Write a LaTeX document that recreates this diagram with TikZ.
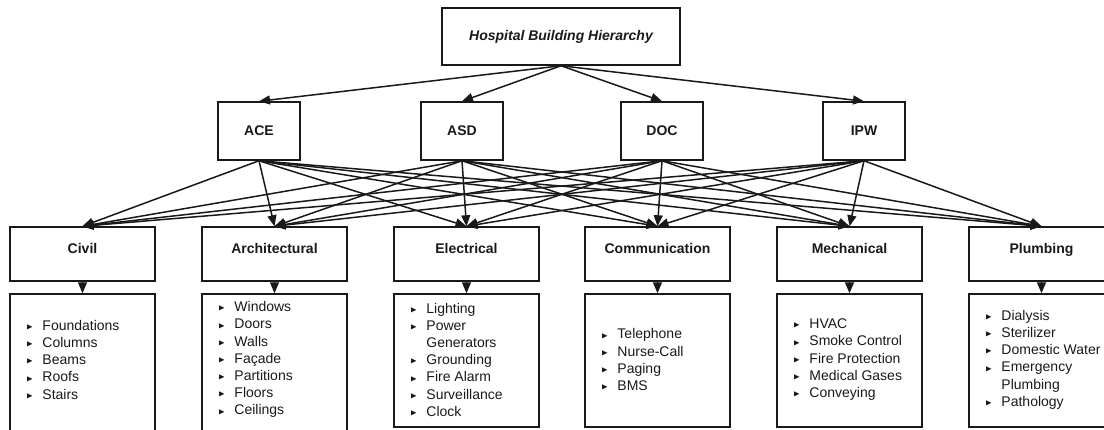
\documentclass[tikz,border=0pt]{standalone}
\usepackage{fontspec}
\setmainfont{Liberation Sans}
\usepackage{amssymb}
\usetikzlibrary{arrows.meta}
\newcommand{\bul}{\raisebox{0.8pt}{\scalebox{0.62}{$\blacktriangleright$}}}
\newcommand{\itm}[1]{\makebox[16pt][l]{\bul}#1}
\newcommand{\cnt}[1]{\makebox[16pt][l]{}#1}
\begin{document}
\begin{tikzpicture}[x=1pt,y=-1pt,
  box/.style={draw=black!90, line width=1.5pt, rectangle, inner sep=0pt, text=black!90,
    font=\fontsize{14}{17}\selectfont\bfseries},
  topbox/.style={box, minimum width=238pt, minimum height=57pt,
    font=\fontsize{14}{17}\selectfont\bfseries\itshape},
  midbox/.style={box, minimum width=82pt, minimum height=58pt},
  catbox/.style={box, minimum width=145pt, text height=26pt, text depth=28pt},
  listbox/.style={draw=black!90, line width=1.5pt, rectangle, inner sep=0pt,
    minimum width=145pt, minimum height=133pt},
  tallbox/.style={listbox, minimum height=141pt},
  listtext/.style={anchor=west, xshift=17pt, yshift=-66.5pt, align=left, inner sep=0pt,
    text=black!90, font=\fontsize{14}{17.2}\selectfont},
  conn/.style={draw=black!90, line width=1.5pt, -{Triangle[length=11pt,width=9pt]}}
]
\useasboundingbox (0,0) rectangle (1104,429);

% top
\node[topbox] (top) at (561,36.5) {Hospital Building Hierarchy};

% second row
\node[midbox] (ace) at (259,131) {ACE};
\node[midbox] (asd) at (462,131) {ASD};
\node[midbox] (doc) at (662,131) {DOC};
\node[midbox] (ipw) at (864,131) {IPW};

% third row
\node[catbox] (civ) at (82.5,254) {Civil};
\node[catbox] (arc) at (274.5,254) {Architectural};
\node[catbox] (ele) at (466.5,254) {Electrical};
\node[catbox] (com) at (657.5,254) {Communication};
\node[catbox] (mec) at (849.5,254) {Mechanical};
\node[catbox] (plu) at (1041.5,254) {Plumbing};

% list boxes
\node[tallbox] (civB) at (82.5,364.5) {};
\node[tallbox] (arcB) at (274.5,364.5) {};
\node[listbox] (eleB) at (466.5,360.5) {};
\node[listbox] (comB) at (657.5,360.5) {};
\node[listbox] (mecB) at (849.5,360.5) {};
\node[listbox] (pluB) at (1041.5,360.5) {};

\node[listtext] (civL) at (civB.north west) {\itm{Foundations}\\ \itm{Columns}\\ \itm{Beams}\\ \itm{Roofs}\\ \itm{Stairs}};
\node[listtext] (arcL) at (arcB.north west) {\itm{Windows}\\ \itm{Doors}\\ \itm{Walls}\\ \itm{Façade}\\ \itm{Partitions}\\ \itm{Floors}\\ \itm{Ceilings}};
\node[listtext] (eleL) at (eleB.north west) {\itm{Lighting}\\ \itm{Power}\\ \cnt{Generators}\\ \itm{Grounding}\\ \itm{Fire Alarm}\\ \itm{Surveillance}\\ \itm{Clock}};
\node[listtext] (comL) at (comB.north west) {\itm{Telephone}\\ \itm{Nurse-Call}\\ \itm{Paging}\\ \itm{BMS}};
\node[listtext] (mecL) at (mecB.north west) {\itm{HVAC}\\ \itm{Smoke Control}\\ \itm{Fire Protection}\\ \itm{Medical Gases}\\ \itm{Conveying}};
\node[listtext] (pluL) at (pluB.north west) {\itm{Dialysis}\\ \itm{Sterilizer}\\ \itm{Domestic Water}\\ \itm{Emergency}\\ \cnt{Plumbing}\\ \itm{Pathology}};

% top to second row
\foreach \m in {ace,asd,doc,ipw}
  \draw[conn] (top.south) -- (\m.north);

% second row to third row
\foreach \m in {ace,asd,doc,ipw}
  \foreach \c in {civ,arc,ele,com,mec,plu}
    \draw[conn] (\m.south) -- (\c.north);

% third row to lists
\foreach \c in {civ,arc,ele,com,mec,plu}
  \draw[conn] (\c.south) -- (\c B.north);
\end{tikzpicture}
\end{document}
